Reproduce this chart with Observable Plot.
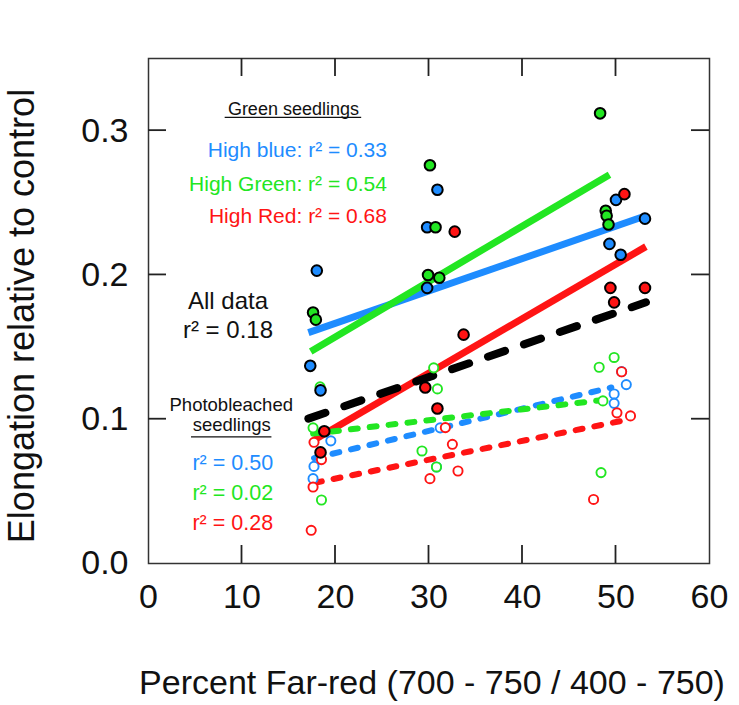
<!DOCTYPE html>
<html><head><meta charset="utf-8">
<script src="https://cdn.jsdelivr.net/npm/d3@7"></script>
<script src="https://cdn.jsdelivr.net/npm/@observablehq/plot@0.6"></script>
<style>
body{margin:0;background:#fff;}
#chart svg{display:block;}
</style></head><body><div id="chart"></div>
<script>
// ---- Data ----
const xTicks = [0, 10, 20, 30, 40, 50, 60];
const yTicks = [0.0, 0.1, 0.2, 0.3];
const seriesNames = ["blue", "green", "red"];
const seriesColors = ["#1e8cff", "#22e622", "#ff1414"];

// Green seedlings (filled symbols)
const gsBlueX  = [17.3, 18.0, 18.4, 29.8, 30.9, 29.8, 49.3, 50.0, 50.5, 53.1];
const gsBlueY  = [0.137, 0.203, 0.120, 0.233, 0.259, 0.191, 0.2215, 0.252, 0.214, 0.239];
const gsGreenX = [48.3, 30.1, 30.7, 29.9, 31.1, 17.6, 17.9, 48.9, 49.0, 49.2];
const gsGreenY = [0.312, 0.276, 0.233, 0.200, 0.198, 0.174, 0.169, 0.2445, 0.241, 0.235];
const gsRedX   = [50.9, 32.75, 49.4, 53.1, 49.8, 33.7, 29.6, 30.9, 18.8, 18.4];
const gsRedY   = [0.256, 0.230, 0.191, 0.191, 0.181, 0.1586, 0.122, 0.1074, 0.0917, 0.077];

// Photobleached seedlings (open symbols)
const pbBlueX  = [50.6, 51.1, 49.8, 49.8, 31.2, 19.5, 17.7, 17.6, 30.8];
const pbBlueY  = [0.133, 0.124, 0.1175, 0.111, 0.094, 0.085, 0.0673, 0.0588, 0.0669];
const pbGreenX = [49.8, 48.2, 30.5, 30.9, 48.6, 18.35, 17.6, 29.25, 30.8, 48.4, 18.5];
const pbGreenY = [0.1428, 0.136, 0.1356, 0.121, 0.1127, 0.1224, 0.094, 0.078, 0.0669, 0.063, 0.044];
const pbRedX   = [50.6, 50.1, 51.55, 31.75, 32.5, 33.1, 30.1, 47.6, 17.7, 18.5, 17.6, 17.4];
const pbRedY   = [0.1329, 0.1044, 0.1023, 0.0942, 0.0826, 0.0641, 0.0588, 0.0444, 0.084, 0.072, 0.053, 0.023];

// Regression lines (end points)
const fitNames  = ["blue", "green", "red", "all", "blue", "green", "red"];
const fitGroup  = ["green", "green", "green", "all", "bleached", "bleached", "bleached"];
const fitX1 = [17.1, 17.35, 17.8, 17.1, 17.7, 17.6, 17.8];
const fitY1 = [0.160, 0.147, 0.086, 0.1004, 0.073, 0.090, 0.056];
const fitX2 = [53.2, 49.3, 53.2, 53.2, 49.5, 48.2, 51.5];
const fitY2 = [0.241, 0.2695, 0.2196, 0.181, 0.122, 0.113, 0.100];

// ---- Build tables ----
const colorOf = n => n === "all" ? "#000" : seriesColors[seriesNames.indexOf(n)];
function pts(X, Y, s) { return X.map((x, i) => ({x, y: Y[i], s})); }
const filled = [...pts(gsBlueX, gsBlueY, "blue"), ...pts(gsGreenX, gsGreenY, "green"), ...pts(gsRedX, gsRedY, "red")];
const open = [...pts(pbBlueX, pbBlueY, "blue"), ...pts(pbGreenX, pbGreenY, "green"), ...pts(pbRedX, pbRedY, "red")];
const fits = fitNames.map((n, i) => ({n, g: fitGroup[i], x1: fitX1[i], y1: fitY1[i], x2: fitX2[i], y2: fitY2[i]}));

const notes = [
  {t: "Green seedlings", x: 15.5, y: 0.311, a: "middle", f: 18, c: "#111"},
  {t: "High blue: r\u00b2 = 0.33", x: 25.5, y: 0.2817, a: "end", f: 21, c: seriesColors[0]},
  {t: "High Green: r\u00b2 = 0.54", x: 25.5, y: 0.2585, a: "end", f: 21, c: seriesColors[1]},
  {t: "High Red: r\u00b2 = 0.68", x: 25.5, y: 0.2359, a: "end", f: 21, c: seriesColors[2]},
  {t: "All data", x: 8.5, y: 0.1765, a: "middle", f: 24, c: "#111"},
  {t: "r\u00b2 = 0.18", x: 8.5, y: 0.1565, a: "middle", f: 24, c: "#111"},
  {t: "Photobleached", x: 8.85, y: 0.106, a: "middle", f: 18.5, c: "#111"},
  {t: "seedlings", x: 8.9, y: 0.0915, a: "middle", f: 18.5, c: "#111"},
  {t: "r\u00b2 = 0.50", x: 13.33, y: 0.0646, a: "end", f: 21.5, c: seriesColors[0]},
  {t: "r\u00b2 = 0.02", x: 13.33, y: 0.0438, a: "end", f: 21.5, c: seriesColors[1]},
  {t: "r\u00b2 = 0.28", x: 13.33, y: 0.0234, a: "end", f: 21.5, c: seriesColors[2]}
];
const underlines = [
  {x1: 8.2, x2: 22.8, y: 0.3092},
  {x1: 4.6, x2: 13.2, y: 0.0878}
];

const xDom = [0, 60], yDom = [0, 0.35], tickLen = 18;

const chart = Plot.plot({
  width: 739, height: 705,
  marginLeft: 148, marginRight: 30, marginTop: 58, marginBottom: 142,
  x: {domain: xDom},
  y: {domain: yDom},
  style: {fontFamily: "'Liberation Sans', Arial, Helvetica, sans-serif", background: "white", color: "#111"},
  marks: [
    Plot.axisX(xTicks, {anchor: "bottom", tickSize: 0, tickPadding: 20, fontSize: 34, label: null, tickFormat: d => String(d)}),
    Plot.axisY(yTicks, {anchor: "left", tickSize: 0, tickPadding: 20, fontSize: 34, label: null, tickFormat: d3.format(".1f")}),
    Plot.frame({stroke: "#333", strokeWidth: 1.5}),
    // fitted lines
    Plot.link(fits.filter(d => d.g === "green"), {x1: "x1", y1: "y1", x2: "x2", y2: "y2", stroke: d => colorOf(d.n), strokeWidth: 7, strokeLinecap: "butt"}),
    Plot.link(fits.filter(d => d.g === "bleached"), {x1: "x1", y1: "y1", x2: "x2", y2: "y2", stroke: d => colorOf(d.n), strokeWidth: 6, strokeLinecap: "round", strokeDasharray: "7,12"}),
    Plot.link(fits.filter(d => d.g === "all"), {x1: "x1", y1: "y1", x2: "x2", y2: "y2", stroke: "#000", strokeWidth: 8, strokeLinecap: "round", strokeDasharray: "18,20"}),
    // points
    Plot.dot(open, {x: "x", y: "y", r: 4.6, stroke: d => colorOf(d.s), strokeWidth: 1.9, fill: "white"}),
    Plot.dot(filled, {x: "x", y: "y", r: 5.3, fill: d => colorOf(d.s), stroke: "#000", strokeWidth: 2}),
    // annotations
    Plot.ruleY(underlines, {y: "y", x1: "x1", x2: "x2", stroke: "#111", strokeWidth: 1.3}),
    ...notes.map(n => Plot.text([n], {x: "x", y: "y", text: "t", textAnchor: n.a, lineAnchor: "bottom", fontSize: n.f, fill: n.c})),
    // axis titles
    Plot.text(["Elongation relative to control"], {text: d => d, frameAnchor: "left", rotate: -90, dx: -115, dy: 5, textAnchor: "middle", lineAnchor: "bottom", fontSize: 36, fill: "#111"}),
    Plot.text(["Percent Far-red (700 - 750 / 400 - 750)"], {text: d => d, frameAnchor: "bottom", dx: 3, dy: 130, textAnchor: "middle", lineAnchor: "bottom", fontSize: 34, fill: "#111"})
  ]
});

// inward ticks on all four sides, positioned with the chart's own scales
const sx = chart.scale("x"), sy = chart.scale("y");
const X0 = sx.apply(xDom[0]), X1 = sx.apply(xDom[1]);
const Y0 = sy.apply(yDom[0]), Y1 = sy.apply(yDom[1]);
const g = d3.select(chart).append("g")
  .attr("stroke", "#222").attr("stroke-width", 1.8).attr("fill", "none");
xTicks.slice(1, -1).forEach(v => {
  const px = sx.apply(v);
  g.append("line").attr("x1", px).attr("x2", px).attr("y1", Y0).attr("y2", Y0 - tickLen);
  g.append("line").attr("x1", px).attr("x2", px).attr("y1", Y1).attr("y2", Y1 + tickLen);
});
yTicks.slice(1).forEach(v => {
  const py = sy.apply(v);
  g.append("line").attr("x1", X0).attr("x2", X0 + tickLen).attr("y1", py).attr("y2", py);
  g.append("line").attr("x1", X1).attr("x2", X1 - tickLen).attr("y1", py).attr("y2", py);
});

document.getElementById("chart").appendChild(chart);
</script>
</body></html>
